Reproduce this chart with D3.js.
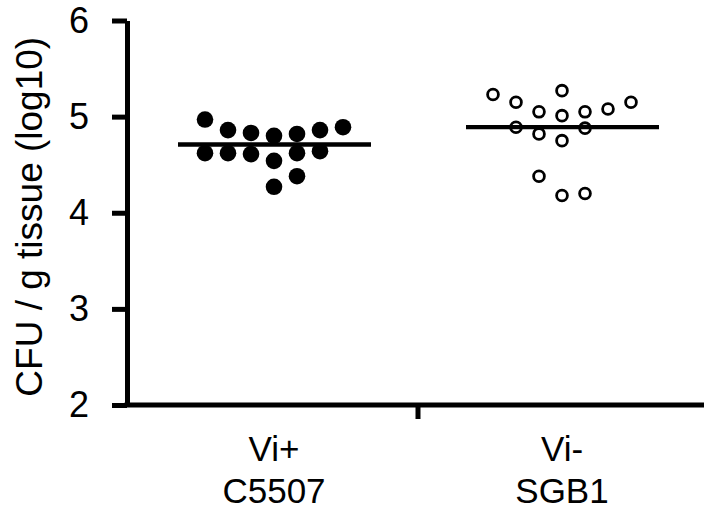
<!DOCTYPE html>
<html>
<head>
<meta charset="utf-8">
<script src="https://cdn.jsdelivr.net/npm/d3@7"></script>
<style>
  body{margin:0;background:#fff;}
  text{font-family:"Liberation Sans",Arial,sans-serif;fill:#000;}
</style>
</head>
<body>
<svg class="graph"></svg>
<script>
// groups, labels and values
let groups=['Vi+','Vi-']
let groupLines=[['Vi+','C5507'],['Vi-','SGB1']]
let yTicks=[2,3,4,5,6]
let yTitle='CFU / g tissue (log10)'

// log10 CFU per mouse, Vi+ C5507 (filled dots)
let valuesPos=[4.97,4.86,4.83,4.80,4.82,4.86,4.89, 4.62,4.62,4.61,4.54,4.62,4.64, 4.38,4.27]
// scatter column of each dot (beeswarm slot)
let slotsPos=[-3,-2,-1,0,1,2,3, -3,-2,-1,0,1,2, 1,0]

// log10 CFU per mouse, Vi- SGB1 (open dots)
let valuesNeg=[5.23,5.15,5.05,5.27,5.01,5.05,5.08,5.15, 4.89,4.82,4.75,4.88, 4.38,4.18,4.20]
let slotsNeg=[-3,-2,-1,0,0,1,2,3, -2,-1,0,1, -1,0,1]

// group mean lines
let means=[4.71,4.89]

let width=704, height=511
let svg=d3.select('.graph').attr('width',width).attr('height',height)

let xscale=d3.scaleBand().domain(groups).range([130,706])
let yscale=d3.scaleLinear().domain([2,6]).range([405,20.5])
let slotGap=23

let yaxis=svg.append('g').attr('transform','translate(127,0)')
  .call(d3.axisLeft(yscale).tickValues(yTicks).tickSize(15).tickSizeOuter(0).tickPadding(23).tickFormat(d3.format('d')))
yaxis.select('.domain').attr('stroke','#000').attr('stroke-width',5)
yaxis.selectAll('.tick line').attr('stroke','#000').attr('stroke-width',5)
yaxis.selectAll('.tick text').style('font-size','36px').attr('fill','#000')
  .style('font-family','"Liberation Sans",Arial,sans-serif')

// x axis line and the separator tick between groups
svg.append('line')
  .attr('x1',124.5).attr('x2',width)
  .attr('y1',yscale(2)).attr('y2',yscale(2))
  .attr('stroke','#000').attr('stroke-width',5)
svg.append('line')
  .attr('x1',xscale(groups[1])).attr('x2',xscale(groups[1]))
  .attr('y1',yscale(2)).attr('y2',yscale(2)+14)
  .attr('stroke','#000').attr('stroke-width',5)

svg.append('text')
  .attr('transform',`translate(42,${(yscale(2)+yscale(6))/2+4}) rotate(-90)`)
  .attr('text-anchor','middle')
  .style('font-size','37px')
  .text(yTitle)

groupLines.forEach((lines,i)=>{
  let cx=xscale(groups[i])+xscale.bandwidth()/2
  lines.forEach((t,j)=>{
    svg.append('text')
      .attr('x',cx).attr('y',461+j*42)
      .attr('text-anchor','middle')
      .style('font-size','35px')
      .text(t)
  })
})

let centerPos=xscale(groups[0])+xscale.bandwidth()/2
let centerNeg=xscale(groups[1])+xscale.bandwidth()/2

svg.selectAll('.dotpos')
  .data(valuesPos)
  .join('circle')
  .attr('class','dotpos')
  .attr('cx',(d,i)=>centerPos+slotsPos[i]*slotGap)
  .attr('cy',d=>yscale(d))
  .attr('r',8.3)
  .attr('fill','#000')

svg.selectAll('.dotneg')
  .data(valuesNeg)
  .join('circle')
  .attr('class','dotneg')
  .attr('cx',(d,i)=>centerNeg+slotsNeg[i]*slotGap)
  .attr('cy',d=>yscale(d))
  .attr('r',5.4)
  .attr('fill','#fff')
  .attr('stroke','#000')
  .attr('stroke-width',2.8)

svg.selectAll('.meanline')
  .data(means)
  .join('line')
  .attr('class','meanline')
  .attr('x1',(d,i)=>xscale(groups[i])+xscale.bandwidth()/2-96)
  .attr('x2',(d,i)=>xscale(groups[i])+xscale.bandwidth()/2+97)
  .attr('y1',d=>yscale(d))
  .attr('y2',d=>yscale(d))
  .attr('stroke','#000')
  .attr('stroke-width',4.3)
</script>
</body>
</html>
